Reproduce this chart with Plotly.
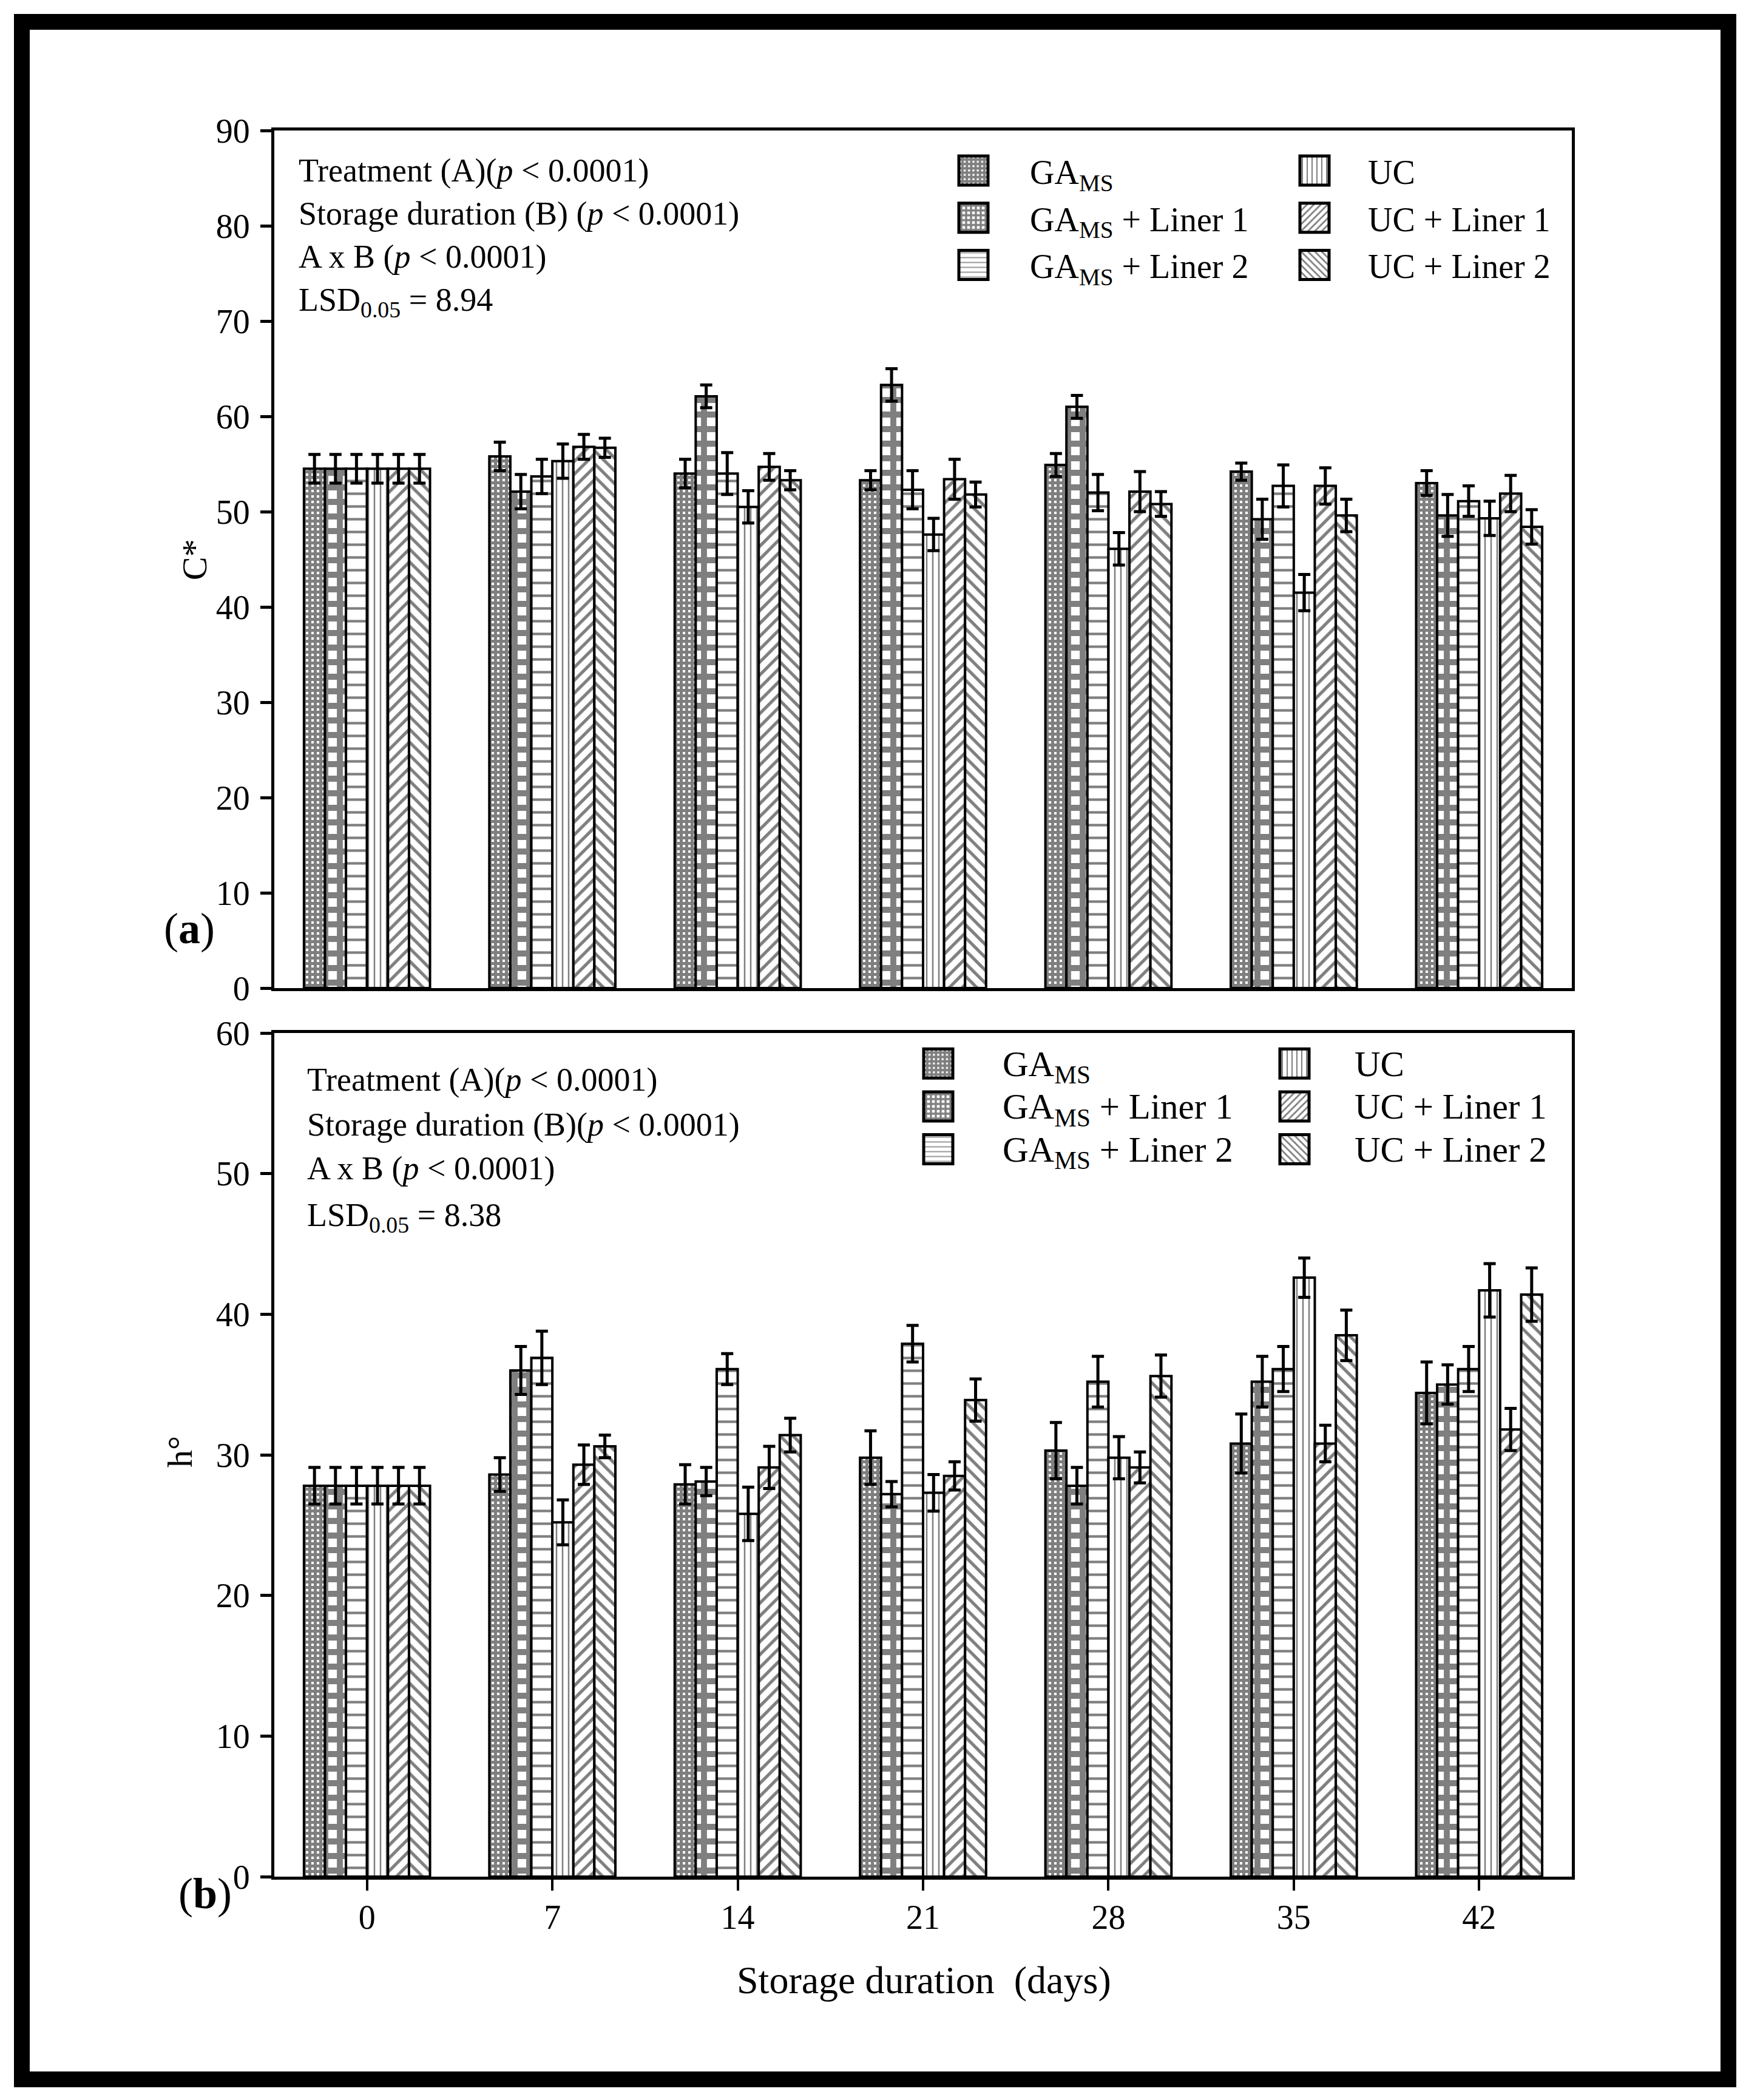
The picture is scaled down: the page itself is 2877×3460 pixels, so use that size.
import plotly.graph_objects as go

# ---------------- data ----------------
days = ["0", "7", "14", "21", "28", "35", "42"]
series_names = ["GA<sub>MS</sub>", "GA<sub>MS</sub> + Liner 1", "GA<sub>MS</sub> + Liner 2",
                "UC", "UC + Liner 1", "UC + Liner 2"]

# panel (a) C*
c_ga = [54.5, 55.8, 54.0, 53.3, 54.9, 54.2, 53.0]
c_ga_l1 = [54.5, 52.1, 62.1, 63.3, 61.0, 49.2, 49.6]
c_ga_l2 = [54.5, 53.7, 54.0, 52.3, 52.0, 52.7, 51.1]
c_uc = [54.5, 55.3, 50.5, 47.6, 46.1, 41.5, 49.3]
c_uc_l1 = [54.5, 56.8, 54.7, 53.4, 52.1, 52.7, 51.9]
c_uc_l2 = [54.5, 56.7, 53.3, 51.8, 50.8, 49.6, 48.4]

c_ga_err = [1.5, 1.5, 1.5, 1.0, 1.2, 0.9, 1.3]
c_ga_l1_err = [1.5, 1.8, 1.2, 1.7, 1.2, 2.1, 2.2]
c_ga_l2_err = [1.5, 1.8, 2.2, 2.0, 1.9, 2.2, 1.6]
c_uc_err = [1.5, 1.8, 1.7, 1.7, 1.7, 1.9, 1.8]
c_uc_l1_err = [1.5, 1.3, 1.4, 2.1, 2.1, 1.9, 1.9]
c_uc_l2_err = [1.5, 1.0, 1.0, 1.3, 1.3, 1.7, 1.8]

# panel (b) h°
h_ga = [27.8, 28.6, 27.9, 29.8, 30.3, 30.8, 34.4]
h_ga_l1 = [27.8, 36.0, 28.1, 27.2, 27.8, 35.2, 35.0]
h_ga_l2 = [27.8, 36.9, 36.1, 37.9, 35.2, 36.1, 36.1]
h_uc = [27.8, 25.2, 25.8, 27.3, 29.8, 42.6, 41.7]
h_uc_l1 = [27.8, 29.3, 29.1, 28.5, 29.1, 30.8, 31.8]
h_uc_l2 = [27.8, 30.6, 31.4, 33.9, 35.6, 38.5, 41.4]

h_ga_err = [1.3, 1.2, 1.4, 1.9, 2.0, 2.1, 2.2]
h_ga_l1_err = [1.3, 1.7, 1.0, 0.9, 1.3, 1.8, 1.4]
h_ga_l2_err = [1.3, 1.9, 1.1, 1.3, 1.8, 1.6, 1.6]
h_uc_err = [1.3, 1.6, 1.9, 1.3, 1.5, 1.4, 1.9]
h_uc_l1_err = [1.3, 1.4, 1.5, 1.0, 1.1, 1.3, 1.5]
h_uc_l2_err = [1.3, 0.8, 1.2, 1.5, 1.5, 1.8, 1.9]

c_values = [c_ga, c_ga_l1, c_ga_l2, c_uc, c_uc_l1, c_uc_l2]
c_errors = [c_ga_err, c_ga_l1_err, c_ga_l2_err, c_uc_err, c_uc_l1_err, c_uc_l2_err]
h_values = [h_ga, h_ga_l1, h_ga_l2, h_uc, h_uc_l1, h_uc_l2]
h_errors = [h_ga_err, h_ga_l1_err, h_ga_l2_err, h_uc_err, h_uc_l1_err, h_uc_l2_err]

# ---------------- styles ----------------
patterns = [
    dict(shape="+", size=9, solidity=0.8),
    dict(shape="+", size=24, solidity=0.65),
    dict(shape="-", size=21, solidity=0.2),
    dict(shape="|", size=10, solidity=0.25),
    dict(shape="/", size=15, solidity=0.35),
    dict(shape="\\", size=15, solidity=0.35),
]

W, H = 2877, 3460
L, R, T, B = 452, 2877 - 2590, 215, 3460 - 3092
PW, PH = W - L - R, H - T - B
FONT = "Liberation Serif"


def px2x(xp):
    return (xp - L) / PW


def px2y(yp):
    return (H - B - yp) / PH


fig = go.Figure()

for panel, (vals, errs) in enumerate([(c_values, c_errors), (h_values, h_errors)]):
    for i in range(6):
        leg_idx = panel * 2 + (0 if i < 3 else 1)
        legend_name = "legend" if leg_idx == 0 else "legend%d" % (leg_idx + 1)
        name = series_names[i]
        if panel == 1:
            name = '<span style="font-size:59px">' + name + '</span>'
        fig.add_trace(go.Bar(
            x=days, y=vals[i],
            name=name,
            xaxis="x" if panel == 0 else "x2",
            yaxis="y" if panel == 0 else "y2",
            legend=legend_name,
            legendgroup="p%d_%d" % (panel, i),
            marker=dict(color="white", line=dict(color="black", width=4),
                        pattern=dict(fgcolor="black", bgcolor="white", **patterns[i])),
            error_y=dict(type="data", array=errs[i], visible=True,
                         color="black", thickness=5, width=10),
        ))

axis_common = dict(showline=True, linecolor="black", linewidth=5, mirror=True,
                   showgrid=False, zeroline=False)

top_y0 = px2y(1628)
bot_y1 = px2y(1702)

fig.update_layout(
    width=W, height=H,
    margin=dict(l=L, r=R, t=T, b=B, autoexpand=False),
    paper_bgcolor="white", plot_bgcolor="white",
    font=dict(family=FONT, color="black", size=50),
    barmode="group", bargap=0.32, bargroupgap=0,
    showlegend=True,
    xaxis=dict(type="category", range=[-0.5, 6.5], anchor="y", ticks="",
               showticklabels=False, **axis_common),
    yaxis=dict(domain=[top_y0, 1], range=[0, 90], dtick=10, anchor="x",
               ticks="outside", ticklen=18, tickwidth=5, tickcolor="black",
               tickfont=dict(size=56, family=FONT), ticklabelstandoff=6,
               **axis_common),
    xaxis2=dict(type="category", range=[-0.5, 6.5], anchor="y2",
                ticks="outside", ticklen=18, tickwidth=4, tickcolor="black",
                tickfont=dict(size=56, family=FONT), ticklabelstandoff=-4,
                **axis_common),
    yaxis2=dict(domain=[0, bot_y1], range=[0, 60], dtick=10, anchor="x2",
                ticks="outside", ticklen=18, tickwidth=5, tickcolor="black",
                tickfont=dict(size=56, family=FONT), ticklabelstandoff=6,
                **axis_common),
)


def leg(x0, ytop, itemwidth, gap, fsize):
    return dict(x=px2x(x0), y=px2y(ytop), orientation="v", xanchor="left", yanchor="top",
                bgcolor="rgba(0,0,0,0)", borderwidth=0, itemwidth=itemwidth,
                traceorder="grouped", tracegroupgap=gap,
                font=dict(family=FONT, size=fsize, color="black"),
                itemclick=False, itemdoubleclick=False)


fig.update_layout(
    legend=leg(1511, 238, 176, 2, 56),
    legend2=leg(2078, 238, 166, 2, 56),
    legend3=leg(1440, 1712, 202, 0, 52),
    legend4=leg(2034, 1712, 188, 0, 52),
)

ann = []
top_lines = ["Treatment (A)(<i>p</i> &lt; 0.0001)",
             "Storage duration (B) (<i>p</i> &lt; 0.0001)",
             "A x B (<i>p</i> &lt; 0.0001)",
             "LSD<sub>0.05</sub> = 8.94"]
top_ys = [281, 352, 423, 497]
bot_lines = ["Treatment (A)(<i>p</i> &lt; 0.0001)",
             "Storage duration (B)(<i>p</i> &lt; 0.0001)",
             "A x B (<i>p</i> &lt; 0.0001)",
             "LSD<sub>0.05</sub> = 8.38"]
bot_ys = [1779, 1853, 1925, 2005]
for txt, yp in zip(top_lines, top_ys):
    ann.append(dict(text=txt, x=px2x(490), y=px2y(yp), xref="paper", yref="paper",
                    xanchor="left", yanchor="middle", showarrow=False,
                    font=dict(size=54, family=FONT)))
for txt, yp in zip(bot_lines, bot_ys):
    ann.append(dict(text=txt, x=px2x(504), y=px2y(yp), xref="paper", yref="paper",
                    xanchor="left", yanchor="middle", showarrow=False,
                    font=dict(size=54, family=FONT)))

# axis titles and panel labels
ann.append(dict(text="C*", x=px2x(320), y=px2y(922), xref="paper", yref="paper",
                textangle=-90, showarrow=False, xanchor="center", yanchor="middle",
                font=dict(size=58, family=FONT)))
ann.append(dict(text="h°", x=px2x(296), y=px2y(2392), xref="paper", yref="paper",
                textangle=-90, showarrow=False, xanchor="center", yanchor="middle",
                font=dict(size=58, family=FONT)))
ann.append(dict(text="Storage duration  (days)", x=px2x(1522), y=px2y(3262),
                xref="paper", yref="paper", showarrow=False,
                xanchor="center", yanchor="middle", font=dict(size=64, family=FONT)))
ann.append(dict(text="(<b>a</b>)", x=px2x(312), y=px2y(1530), xref="paper", yref="paper",
                showarrow=False, xanchor="center", yanchor="middle",
                font=dict(size=72, family=FONT)))
ann.append(dict(text="(<b>b</b>)", x=px2x(338), y=px2y(3120), xref="paper", yref="paper",
                showarrow=False, xanchor="center", yanchor="middle",
                font=dict(size=72, family=FONT)))

fig.update_layout(annotations=ann)

# outer frame
fig.add_shape(type="rect", xref="paper", yref="paper",
              x0=px2x(36), x1=px2x(2848), y0=px2y(3426), y1=px2y(36),
              line=dict(color="black", width=26), fillcolor="rgba(0,0,0,0)", layer="above")

# page margin reset and legend swatch size matching the reference (style only)
post_js = """
document.body.style.margin = '0';
var gd = document.getElementById('{plot_id}');
gd.querySelectorAll('g.legendpoints path').forEach(function(p){
    p.setAttribute('d', 'M24,24H-24V-24H24Z');
    p.style.strokeWidth = '5px';
    p.style.stroke = 'black';
});
"""

fig.write_html("out.html", post_script=post_js, config={"displayModeBar": False})
